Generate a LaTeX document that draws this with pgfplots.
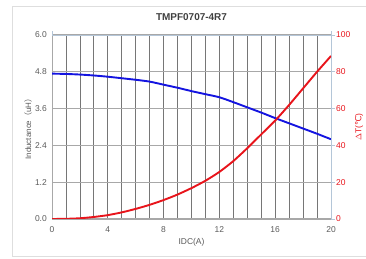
\documentclass[border=0pt]{standalone}
\usepackage{fontspec}
\setmainfont{Liberation Sans}
\newfontfamily\cjk{Noto Sans CJK SC}
\newfontfamily\dejavu{DejaVu Sans}
\usepackage{pgfplots}
\pgfplotsset{compat=1.18}
\definecolor{txtgray}{HTML}{5A5A5A}
\definecolor{ttlgray}{HTML}{404040}
\definecolor{myred}{HTML}{E8141B}
\definecolor{myblue}{HTML}{1414E0}
\definecolor{axblue}{HTML}{B4C6D8}
\definecolor{vgrid}{HTML}{767676}
\definecolor{hgrid}{HTML}{A8A8A8}
\pgfplotstableread{
x L
0 4.74
1 4.73
2 4.71
3 4.68
4 4.64
5 4.59
6 4.54
7 4.48
8 4.38
9 4.28
10 4.17
11 4.07
12 3.97
13 3.81
14 3.64
15 3.47
16 3.29
17 3.12
18 2.95
19 2.78
20 2.60
}\inductance
\pgfplotstableread{
x T
0 0
1 0.1
2 0.4
3 1.1
4 2.1
5 3.6
6 5.5
7 7.7
8 10.3
9 13.3
10 16.8
11 20.8
12 25.6
13 31.5
14 38.5
15 46.0
16 53.5
17 62.0
18 71.0
19 80.0
20 88.6
}\temprise
\begin{document}
\begin{tikzpicture}[x=1bp,y=1bp]
\path[use as bounding box] (0,0) rectangle (366,259);
\draw[color=black!13, line width=1bp] (370,2.5) -- (12,2.5) -- (12,252.5) -- (370,252.5);
\node[font=\fontsize{10}{12}\selectfont\bfseries, text=ttlgray] at (191.5,242) {TMPF0707-4R7};
\begin{axis}[
  at={(52bp,40bp)}, anchor=south west, scale only axis,
  width=279bp, height=184bp,
  xmin=0, xmax=20, ymin=0, ymax=6,
  axis x line*=bottom, axis y line*=left,
  axis line style={draw=hgrid, line width=0.8bp},
  xtick={0,4,...,20}, minor xtick={1,2,...,19},
  ytick={0,1.2,2.4,3.6,4.8,6.0},
  xminorgrids, ymajorgrids,
  major grid style={draw=hgrid, line width=1.2bp},
  minor grid style={draw=vgrid, line width=0.75bp},
  major tick length=0pt, minor tick length=0pt,
  /pgf/number format/assume math mode=true,
  tick label style={font=\fontsize{8.5}{10}\selectfont, text=txtgray},
  xticklabel style={anchor=center, inner sep=0pt, yshift=-11bp},
  yticklabel style={anchor=east, inner sep=0pt, xshift=-5bp, /pgf/number format/.cd, fixed, fixed zerofill, precision=1},
  xlabel={IDC(A)},
  xlabel style={at={(axis description cs:0.5,0)}, anchor=center, yshift=-23.7bp, font=\fontsize{8.5}{10}\selectfont, text=txtgray},
  ylabel={Inductance{\cjk （}uH{\cjk ）}},
  ylabel style={at={(axis description cs:-0.086,0.5)}, anchor=center, font=\fontsize{8}{10}\selectfont, text=txtgray},
]
\addplot[myblue, line width=1.9bp, smooth, tension=0.4] table[x=x,y=L] {\inductance};
\end{axis}
\begin{axis}[
  at={(52bp,40bp)}, anchor=south west, scale only axis,
  width=279bp, height=184bp,
  xmin=0, xmax=20, ymin=0, ymax=100,
  axis x line*=top, axis y line*=right,
  axis line style={draw=axblue, line width=0.8bp},
  xtick={0,20}, xticklabels={},
  ytick={0,20,...,100},
  tick align=outside, major tick length=3.5bp,
  every tick/.append style={draw=axblue, line width=0.8bp},
  /pgf/number format/assume math mode=true,
  tick label style={font=\fontsize{8.5}{10}\selectfont, text=myred},
  yticklabel style={anchor=west, inner sep=0pt, xshift=1.5bp},
  ylabel={$\Delta$T({\dejavu ℃})},
  ylabel style={at={(axis description cs:1.1004,0.5)}, anchor=center, font=\fontsize{8.5}{10}\selectfont, text=myred},
]
\addplot[myred, line width=1.9bp, smooth, tension=0.4] table[x=x,y=T] {\temprise};
\end{axis}
\end{tikzpicture}
\end{document}
